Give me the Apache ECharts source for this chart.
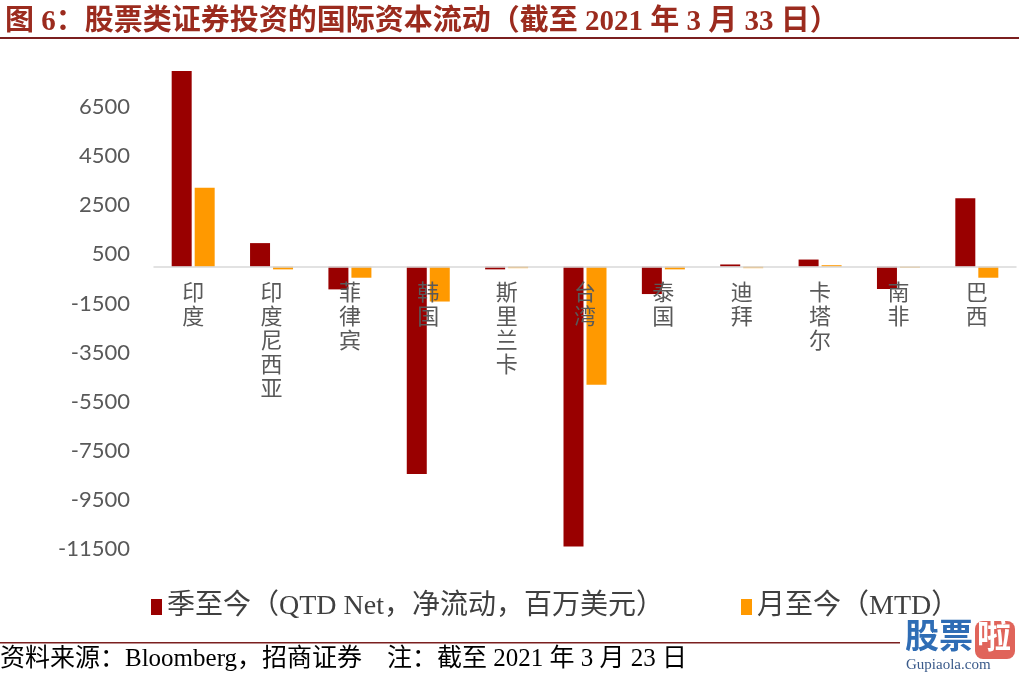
<!DOCTYPE html>
<html>
<head>
<meta charset="utf-8">
<script src="https://cdn.jsdelivr.net/npm/echarts@6/dist/echarts.min.js"></script>
<style>
html,body{margin:0;padding:0;background:#fff;}
#chart{width:1019px;height:677px;}
</style>
</head>
<body>
<div id="chart"></div>
<script>
const categories = ['印度','印度尼西亚','菲律宾','韩国','斯里兰卡','台湾','泰国','迪拜','卡塔尔','南非','巴西'];
const qtdName = '季至今（QTD Net，净流动，百万美元）';
const mtdName = '月至今（MTD）';
const qtdValues = [7970, 960, -925, -8440, -110, -11400, -1115, 90, 290, -910, 2790];
const mtdValues = [3210, -110, -450, -1420, -60, -4810, -110, -60, 60, -40, -450];
const yTicks = [-11500, -9500, -7500, -5500, -3500, -1500, 500, 2500, 4500, 6500];
const titleText = '图 6：股票类证券投资的国际资本流动（截至 2021 年 3 月 33 日）';
const sourceText = '资料来源：Bloomberg，招商证券　注：截至 2021 年 3 月 23 日';

const chart = echarts.init(document.getElementById('chart'), null, {renderer:'canvas'});
const serifCJK = '"Liberation Serif","Noto Sans CJK SC",serif';
chart.setOption({
  animation:false,
  backgroundColor:'#fff',
  title:{
    text:titleText, left:0, top:3,
    textStyle:{color:'#9B2B1E', fontSize:29, fontWeight:'bold', fontFamily:serifCJK}
  },
  legend:[{
    data:[qtdName], left:146, top:588, itemWidth:11, itemHeight:16, itemGap:10,
    icon:'rect',
    textStyle:{color:'#404040', fontSize:28, fontFamily:serifCJK}
  },{
    data:[mtdName], left:736, top:588, itemWidth:11, itemHeight:16,
    icon:'rect',
    textStyle:{color:'#404040', fontSize:28, fontFamily:serifCJK}
  }],
  grid:{left:154, right:3, top:58, bottom:128, containLabel:false, outerBoundsMode:'none'},
  xAxis:{
    type:'category', data:categories, z:10,
    axisLine:{onZero:true, lineStyle:{color:'#D9D9D9', width:1.5}},
    axisTick:{show:false},
    axisLabel:{
      interval:0, margin:-269, color:'#595959', fontSize:22, lineHeight:24,
      fontFamily:'"Noto Sans CJK SC",sans-serif',
      verticalAlign:'top', hideOverlap:false,
      formatter:v=>v.split('').join('\n')
    }
  },
  yAxis:{
    type:'value', min:-11500, max:8500, interval:2000,
    axisLine:{show:false}, axisTick:{show:false}, splitLine:{show:false},
    axisLabel:{
      margin:24, color:'#595959', fontSize:22, fontFamily:'Lato',
      formatter:v=>yTicks.includes(v)?String(v):''
    }
  },
  series:[
    {name:qtdName, type:'bar', data:qtdValues, barWidth:20, barGap:'15%', itemStyle:{color:'#990000'}},
    {name:mtdName, type:'bar', data:mtdValues, barWidth:20, itemStyle:{color:'#FF9900'}}
  ],
  graphic:[
    {type:'rect', shape:{x:0,y:37,width:1019,height:2}, style:{fill:'#7B1F1F'}},
    {type:'rect', shape:{x:0,y:642,width:900,height:1.5}, style:{fill:'#7B1F1F'}},
    {type:'text', left:0, top:647, style:{text:sourceText, fill:'#000', font:'25px "Liberation Serif","Noto Sans CJK SC",serif'}},
    {type:'text', left:905, top:618, style:{text:'股票', fill:'#2F6DB5', font:'bold 34px "Noto Sans CJK SC"'}},
    {type:'rect', shape:{x:975,y:621,width:40,height:38,r:8}, style:{fill:'#E0645A'}},
    {type:'text', left:977, top:618, style:{text:'啦', fill:'#fff', font:'bold 34px "Noto Sans CJK SC"'}},
    {type:'text', left:906, top:658, style:{text:'Gupiaola.com', fill:'#3a5a8a', font:'15px "Liberation Serif"'}}
  ]
});
</script>
</body>
</html>
